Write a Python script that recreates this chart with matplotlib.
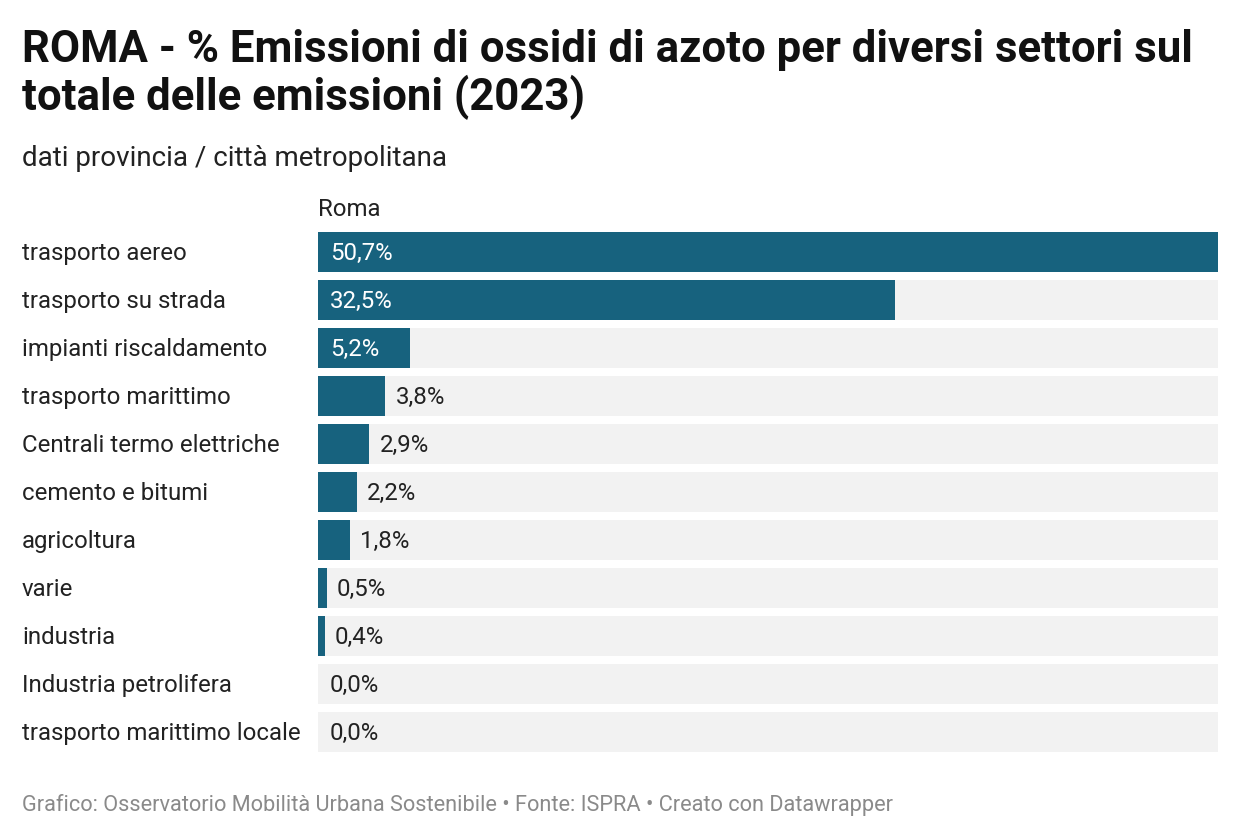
import matplotlib.pyplot as plt
from matplotlib.transforms import offset_copy

plt.rcParams['font.family'] = ['Roboto', 'DejaVu Sans']

# dati
settori = ["trasporto aereo", "trasporto su strada", "impianti riscaldamento",
           "trasporto marittimo", "Centrali termo elettriche", "cemento e bitumi",
           "agricoltura", "varie", "industria", "Industria petrolifera",
           "trasporto marittimo locale"]
valori = [50.7, 32.5, 5.2, 3.8, 2.9, 2.2, 1.8, 0.5, 0.4, 0.0, 0.0]
etichette = ["50,7%", "32,5%", "5,2%", "3,8%", "2,9%", "2,2%", "1,8%",
             "0,5%", "0,4%", "0,0%", "0,0%"]

W, H = 1240, 838
fig = plt.figure(figsize=(W / 100, H / 100), dpi=100)
fig.patch.set_facecolor("white")

# area barre: x 318..1218, y 228..756 (pixel)
ax = fig.add_axes([318 / W, (H - 756) / H, 900 / W, 528 / H])
n = len(settori)
pos = list(range(n))
colore = "#17627e"
altezza = 40 / 48
fs = 17.3

ax.barh(pos, [max(valori)] * n, height=altezza, color="#f2f2f2", zorder=1)
ax.barh(pos, valori, height=altezza, color=colore, zorder=2)
ax.set_xlim(0, max(valori))
ax.set_ylim(n - 0.5, -0.5)
ax.axis("off")

for i, (v, lab) in enumerate(zip(valori, etichette)):
    if v >= 5:
        tr = offset_copy(ax.transData, fig=fig, x=12, y=-1.5, units="dots")
        ax.text(0, i, lab, transform=tr, color="white", fontsize=fs,
                va="center", ha="left", zorder=3)
    elif v > 0:
        tr = offset_copy(ax.transData, fig=fig, x=10, y=-1.5, units="dots")
        ax.text(v, i, lab, transform=tr, color="#222222", fontsize=fs,
                va="center", ha="left", zorder=3)
    else:
        tr = offset_copy(ax.transData, fig=fig, x=12, y=-1.5, units="dots")
        ax.text(0, i, lab, transform=tr, color="#222222", fontsize=fs,
                va="center", ha="left", zorder=3)
    # etichette categorie
    fig.text(22 / W, 1 - (253.5 + 48 * i) / H, settori[i], fontsize=fs,
             color="#222222", va="center", ha="left")

fig.text(318 / W, 1 - 209 / H, "Roma", fontsize=fs, color="#222222",
         va="center", ha="left")

# titolo
fig.text(22 / W, 1 - 62 / H,
         "ROMA - % Emissioni di ossidi di azoto per diversi settori sul",
         fontsize=31.5, fontweight="bold", color="#111111", va="baseline", ha="left")
fig.text(22 / W, 1 - 110 / H, "totale delle emissioni (2023)",
         fontsize=31.5, fontweight="bold", color="#111111", va="baseline", ha="left")
fig.text(22 / W, 1 - 166 / H, "dati provincia / città metropolitana",
         fontsize=20, color="#222222", va="baseline", ha="left")

fig.text(22 / W, 1 - 805 / H,
         "Grafico: Osservatorio Mobilità Urbana Sostenibile • Fonte: ISPRA • Creato con Datawrapper",
         fontsize=15.7, color="#8a8a8a", va="center", ha="left")

fig.savefig("out.png", dpi=100)
